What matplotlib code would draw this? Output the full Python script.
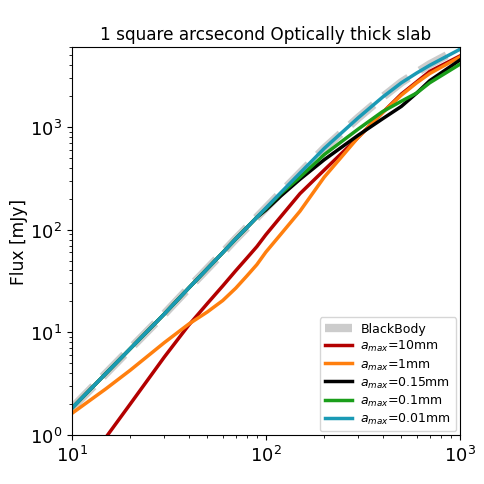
import matplotlib
matplotlib.use("Agg")
import matplotlib.pyplot as plt

# Frequency grid [GHz]
freq = [10, 15, 20, 30, 40, 50, 60, 70, 80, 90, 100, 120, 150, 200, 300, 400, 500, 600, 700, 1000]

# Fluxes [mJy]
flux_bb    = [1.82, 3.98, 6.92, 15.1, 26.9, 41.7, 59.7, 81.3, 105, 132, 162, 231, 355, 617, 1230, 1950, 2720, 3390, 4070, 5820]
flux_10mm  = [0.32, 0.95, 2.0, 5.75, 11.7, 19.1, 28.3, 39.8, 53, 68.4, 89, 135, 224, 380, 794, 1380, 2090, 2750, 3470, 4900]
flux_1mm   = [1.62, 2.82, 4.27, 7.94, 12.0, 15.8, 20.4, 26.9, 35.5, 45.7, 60.3, 91, 151, 324, 794, 1380, 2040, 2690, 3310, 4790]
flux_015mm = [1.82, 3.98, 6.92, 15.1, 26.9, 41.7, 59.7, 81.3, 105, 132, 155, 214, 309, 479, 832, 1200, 1585, 2140, 2820, 4470]
flux_01mm  = [1.82, 3.98, 6.92, 15.1, 26.9, 41.7, 59.7, 81.3, 105, 132, 160, 226, 324, 537, 955, 1410, 1780, 2140, 2690, 4070]
flux_001mm = [1.82, 3.98, 6.92, 15.1, 26.9, 41.7, 59.7, 81.3, 105, 132, 162, 231, 355, 617, 1230, 1950, 2690, 3350, 3980, 5690]

labels = ["BlackBody", r"$a_{max}$=10mm", r"$a_{max}$=1mm", r"$a_{max}$=0.15mm",
          r"$a_{max}$=0.1mm", r"$a_{max}$=0.01mm"]
colors = ["#b30000", "#ff7f0e", "#000000", "#1a9e1a", "#1a9ab5"]

fig = plt.figure(figsize=(4.85, 4.85), dpi=100)
ax = fig.add_axes([0.148, 0.101, 0.80, 0.80])

ax.plot(freq, flux_bb, color="#cccccc", lw=6, ls="--", label=labels[0])
for vals, c, lab in zip([flux_10mm, flux_1mm, flux_015mm, flux_01mm, flux_001mm], colors, labels[1:]):
    ax.plot(freq, vals, color=c, lw=2.5, label=lab)

ax.set_xscale("log")
ax.set_yscale("log")
ax.set_xlim(10, 1000)
ax.set_ylim(1, 6000)
ax.set_ylabel("Flux [mJy]", fontsize=12.3)
ax.yaxis.set_label_coords(-0.112, 0.5)
ax.set_title("1 square arcsecond Optically thick slab", fontsize=12.2)
ax.tick_params(axis="both", which="major", labelsize=13)
ax.legend(loc="lower right", fontsize=9, labelspacing=0.25, handlelength=2.2,
          borderaxespad=0.3, borderpad=0.4, handletextpad=0.65)

fig.savefig("out.png", dpi=100)
